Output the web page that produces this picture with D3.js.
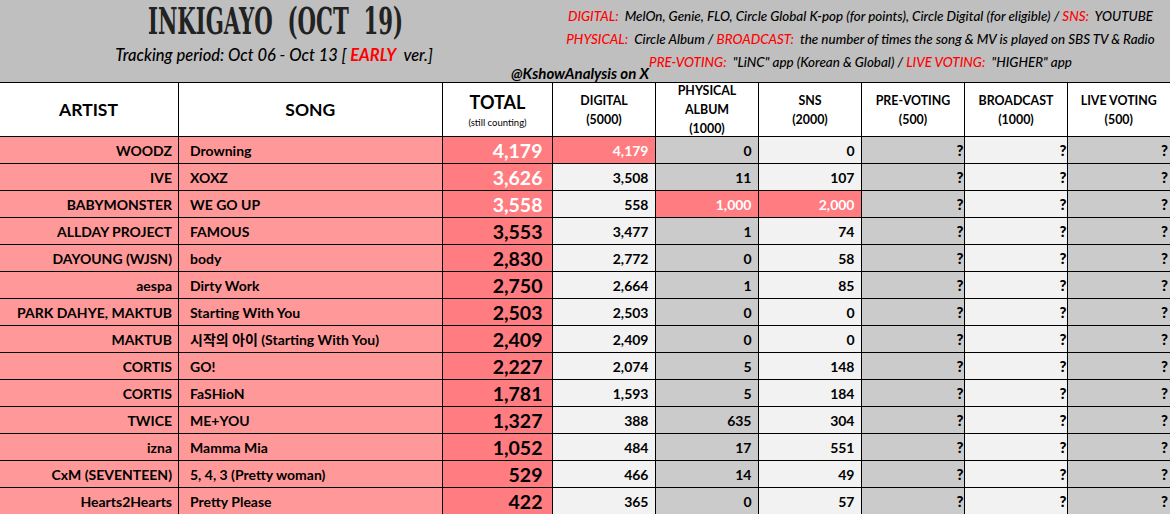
<!DOCTYPE html>
<html>
<head>
<meta charset="utf-8">
<script src="https://cdn.jsdelivr.net/npm/d3@7"></script>
<style>
  html, body { margin: 0; padding: 0; background: #fff; overflow: hidden; }
  text { font-family: Lato, "Noto Sans CJK KR", sans-serif; white-space: pre; }
</style>
</head>
<body>
<div id="chart"></div>
<script>
var artists = ["WOODZ", "IVE", "BABYMONSTER", "ALLDAY PROJECT", "DAYOUNG (WJSN)", "aespa", "PARK DAHYE, MAKTUB", "MAKTUB", "CORTIS", "CORTIS", "TWICE", "izna", "CxM (SEVENTEEN)", "Hearts2Hearts"];
var songs = ["Drowning", "XOXZ", "WE GO UP", "FAMOUS", "body", "Dirty Work", "Starting With You", "시작의 아이 (Starting With You)", "GO!", "FaSHioN", "ME+YOU", "Mamma Mia", "5, 4, 3 (Pretty woman)", "Pretty Please"];
var totals = [4179, 3626, 3558, 3553, 2830, 2750, 2503, 2409, 2227, 1781, 1327, 1052, 529, 422];
var digital = [4179, 3508, 558, 3477, 2772, 2664, 2503, 2409, 2074, 1593, 388, 484, 466, 365];
var physical = [0, 11, 1000, 1, 0, 1, 0, 0, 5, 5, 635, 17, 14, 0];
var sns = [0, 107, 2000, 74, 58, 85, 0, 0, 148, 184, 304, 551, 49, 57];
var columns = ["artist", "song", "total", "digital", "physical", "sns", "pre", "broadcast", "live"];
var headers = [["ARTIST"], ["SONG"], ["TOTAL"], ["DIGITAL", "(5000)"], ["PHYSICAL", "ALBUM", "(1000)"], ["SNS", "(2000)"], ["PRE-VOTING", "(500)"], ["BROADCAST", "(1000)"], ["LIVE VOTING", "(500)"]];
var notes = [
  [["DIGITAL:  ", 1], ["MelOn, Genie, FLO, Circle Global K-pop (for points), Circle Digital (for eligible) / ", 0], ["SNS:  ", 1], ["YOUTUBE", 0]],
  [["PHYSICAL:  ", 1], ["Circle Album / ", 0], ["BROADCAST:  ", 1], ["the number of times the song & MV is played on SBS TV & Radio", 0]],
  [["PRE-VOTING:  ", 1], ["\"LiNC\" app (Korean & Global) / ", 0], ["LIVE VOTING:  ", 1], ["\"HIGHER\" app", 0]]
];

var width = 1170, height = 514;
var colEdges = [0, 178, 442.5, 552.5, 655.5, 758.5, 861.5, 964.5, 1067.5, 1170];
var colLeft = d3.scaleOrdinal(columns, colEdges);
var colRight = d3.scaleOrdinal(columns, colEdges.slice(1));
var rowY = d3.scaleBand().domain(d3.range(artists.length)).range([136.5, 515]);

var pink = "#ff9999", red = "#ff7c80", grey = "#cccbcb", light = "#f2f2f2";
var fmt = d3.format(",");

var svg = d3.select("#chart").append("svg")
  .attr("width", width).attr("height", height)
  .style("display", "block");

// banner
svg.append("rect").attr("width", width).attr("height", 82.5).attr("fill", "#bfbfbf");

svg.append("text").attr("x", 275.5).attr("y", 34)
  .attr("text-anchor", "middle")
  .attr("textLength", 255).attr("lengthAdjust", "spacingAndGlyphs")
  .style("font-family", "'DejaVu Serif Condensed', 'DejaVu Serif', serif")
  .style("font-weight", 700).style("font-size", "37px").attr("fill", "#222")
  .text("INKIGAYO  (OCT  19)");

var sub = svg.append("text").attr("x", 274).attr("y", 61)
  .attr("text-anchor", "middle")
  .style("font-size", "16.5px").style("font-style", "italic").style("font-weight", 500);
sub.append("tspan").text("Tracking period: Oct 06 - Oct 13 [ ");
sub.append("tspan").attr("fill", "#ff0000").style("font-weight", 700).text("EARLY");
sub.append("tspan").text("  ver.]");

svg.append("text").attr("x", 511).attr("y", 79)
  .style("font-size", "15px").style("font-style", "italic").style("font-weight", 700)
  .text("@KshowAnalysis on X");

notes.forEach(function(line, i) {
  var t = svg.append("text").attr("x", 860.5).attr("y", 21 + i * 23)
    .attr("text-anchor", "middle")
    .style("font-size", "13.4px").style("font-style", "italic").style("font-weight", 500);
  line.forEach(function(p) {
    t.append("tspan").attr("fill", p[1] ? "#ff0000" : "#000").text(p[0]);
  });
});

// header row
svg.append("rect").attr("y", 82.5).attr("width", width).attr("height", 54).attr("fill", "#fff");
columns.forEach(function(c, i) {
  var cx = (colLeft(c) + colRight(c)) / 2;
  var lines = headers[i];
  if (i < 2) {
    svg.append("text").attr("x", i == 0 ? 88.5 : cx).attr("y", 116).attr("text-anchor", "middle")
      .style("font-size", "17.5px").style("font-weight", 700).text(lines[0]);
  } else if (i == 2) {
    svg.append("text").attr("x", cx).attr("y", 109).attr("text-anchor", "middle")
      .style("font-size", "18px").style("font-weight", 700).text(lines[0]);
    svg.append("text").attr("x", cx).attr("y", 126).attr("text-anchor", "middle")
      .style("font-size", "9.5px").text("(still counting)");
  } else {
    var y0 = lines.length == 3 ? 95 : 105;
    lines.forEach(function(l, j) {
      svg.append("text").attr("x", cx).attr("y", y0 + j * 19).attr("text-anchor", "middle")
        .style("font-size", "12.4px").style("font-weight", 700).text(l);
    });
  }
});

// cell backgrounds
var rows = svg.selectAll("g.row").data(d3.range(artists.length)).enter()
  .append("g").attr("class", "row")
  .attr("transform", function(d) { return "translate(0," + rowY(d) + ")"; });

function cellFill(c, r) {
  if (c == "artist" || c == "song") return pink;
  if (c == "total") return red;
  if (c == "digital") return digital[r] == totals[r] && r == 0 ? red : light;
  if (c == "physical") return physical[r] == 1000 ? red : grey;
  if (c == "sns") return sns[r] == 2000 ? red : light;
  return c == "broadcast" ? light : grey;
}

columns.forEach(function(c) {
  rows.append("rect")
    .attr("x", colLeft(c)).attr("width", colRight(c) - colLeft(c))
    .attr("height", rowY.bandwidth())
    .attr("fill", function(r) { return cellFill(c, r); });
});

var midY = rowY.bandwidth() / 2 + 6;

rows.append("text").attr("x", colRight("artist") - 6).attr("y", midY)
  .attr("text-anchor", "end")
  .style("font-size", "14px").style("font-weight", 700)
  .text(function(r) { return artists[r]; });

rows.append("text").attr("x", colLeft("song") + 12).attr("y", midY)
  .style("font-size", "14px").style("font-weight", 700)
  .text(function(r) { return songs[r]; });

rows.append("text").attr("x", colRight("total") - 10).attr("y", midY + 2)
  .attr("text-anchor", "end")
  .style("font-size", "19.5px").style("font-weight", 700)
  .attr("fill", function(r) { return r < 3 ? "#fff" : "#000"; })
  .text(function(r) { return fmt(totals[r]); });

[["digital", digital], ["physical", physical], ["sns", sns]].forEach(function(s) {
  rows.append("text").attr("x", colRight(s[0]) - 7).attr("y", midY)
    .attr("text-anchor", "end")
    .style("font-size", "14px").style("font-weight", 700)
    .attr("fill", function(r) { return cellFill(s[0], r) == red ? "#fff" : "#000"; })
    .text(function(r) { return fmt(s[1][r]); });
});

["pre", "broadcast", "live"].forEach(function(c) {
  rows.append("text").attr("x", colRight(c) - (c == "live" ? 2 : 1)).attr("y", midY)
    .attr("text-anchor", "end")
    .style("font-size", "15px").style("font-weight", 900)
    .text("?");
});

// grid
var grid = svg.append("g").attr("stroke", "#000").attr("stroke-width", 1).attr("shape-rendering", "crispEdges");
[82, 136].concat(d3.range(artists.length).slice(1).map(function(r) { return Math.floor(rowY(r)); })).forEach(function(y) {
  grid.append("line").attr("x1", 0).attr("x2", width).attr("y1", y + 0.5).attr("y2", y + 0.5);
});
columns.slice(1).forEach(function(c) {
  var x = Math.floor(colLeft(c)) + 0.5;
  grid.append("line").attr("x1", x).attr("x2", x).attr("y1", 82).attr("y2", height);
});
</script>
</body>
</html>
